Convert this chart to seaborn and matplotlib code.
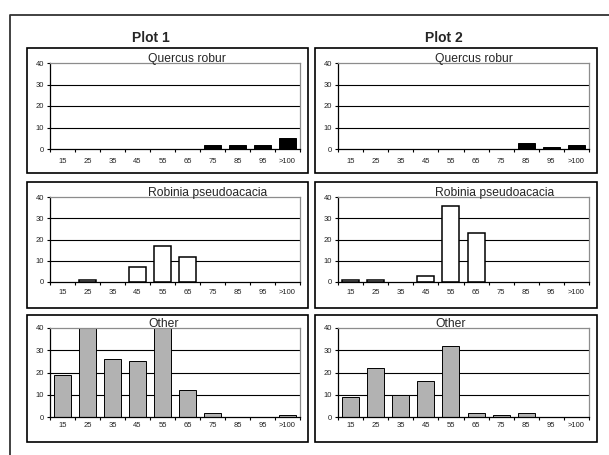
import matplotlib
matplotlib.use("Agg")
import matplotlib.pyplot as plt
from matplotlib.patches import Rectangle
from matplotlib.lines import Line2D
import seaborn as sns
import pandas as pd

# Diameter classes (cm) and stem counts per species group
classes = ["15", "25", "35", "45", "55", "65", "75", "85", "95", ">100"]

plot1_quercus = [0, 0, 0, 0, 0, 0, 2, 2, 2, 5]
plot2_quercus = [0, 0, 0, 0, 0, 0, 0, 3, 1, 2]
plot1_robinia = [0, 1, 0, 7, 17, 12, 0, 0, 0, 0]
plot2_robinia = [1, 1, 0, 3, 36, 23, 0, 0, 0, 0]
plot1_other = [19, 42, 26, 25, 41, 12, 2, 0, 0, 1]
plot2_other = [9, 22, 10, 16, 32, 2, 1, 2, 0, 0]

species = ["Quercus robur", "Robinia pseudoacacia", "Other"]
column_titles = ["Plot 1", "Plot 2"]
fills = ["#000000", "#ffffff", "#b2b2b2"]

counts = {
    (0, 0): plot1_quercus, (0, 1): plot2_quercus,
    (1, 0): plot1_robinia, (1, 1): plot2_robinia,
    (2, 0): plot1_other, (2, 1): plot2_other,
}

sns.set_style("white")
plt.rcParams["font.family"] = ["Liberation Sans", "DejaVu Sans"]

W, H = 609, 455
fig = plt.figure(figsize=(W / 100, H / 100), dpi=100)


def fx(px):
    return px / W


def fy(py):
    return 1 - py / H


# outer frame (open to the right and bottom)
fig.add_artist(Line2D([fx(10), fx(10), fx(609)], [fy(455), fy(15), fy(15)],
                      transform=fig.transFigure, color="#333333", lw=1.3))

col_box = [(27, 308), (315, 597)]
row_box = [(48, 173), (182, 308), (315, 442)]
col_axes = [(50, 300), (338, 589)]
row_axes = [(63, 149), (197, 282), (328, 417)]
title_x = [148, 435]
xlabel_pad = [6.4, 5.2, 3.9]

for c, (x0, x1) in enumerate(col_box):
    for r, (y0, y1) in enumerate(row_box):
        fig.add_artist(Rectangle((fx(x0), fy(y1)), fx(x1) - fx(x0), fy(y0) - fy(y1),
                                 transform=fig.transFigure, fill=False,
                                 edgecolor="#000000", lw=1.2))

for c in range(2):
    ax0, ax1 = col_axes[c]
    for r in range(3):
        ay0, ay1 = row_axes[r]
        ax = fig.add_axes([fx(ax0), fy(ay1), fx(ax1) - fx(ax0), fy(ay0) - fy(ay1)])
        df = pd.DataFrame({"cls": classes, "n": counts[(r, c)]})
        sns.barplot(data=df, x="cls", y="n", order=classes, ax=ax,
                    color=fills[r], saturation=1, width=0.68,
                    edgecolor="black", linewidth=1.1 if r == 1 else 0.7)
        ax.set_xlim(-0.5, len(classes) - 0.5)
        ax.set_ylim(0, 40)
        ax.set_yticks([0, 10, 20, 30, 40])
        ax.set_yticklabels(["0", "10", "20", "30", "40"], fontsize=5.5, color="#222222")
        for yv in (10, 20, 30):
            ax.axhline(yv, color="black", lw=0.8, zorder=0)
        # boundary tick marks between classes, labels at class centres
        ax.set_xticks([i - 0.5 for i in range(len(classes) + 1)])
        ax.set_xticklabels([])
        ax.set_xticks(range(len(classes)), minor=True)
        ax.set_xticklabels(classes, minor=True, fontsize=5.5, color="#222222")
        ax.tick_params(axis="x", which="major", direction="out", length=2.5, width=0.8,
                       bottom=True, color="black")
        ax.tick_params(axis="x", which="minor", length=0, pad=xlabel_pad[r])
        ax.tick_params(axis="y", direction="out", length=2.2, width=0.8, pad=2,
                       left=True, color="black")
        ax.set_xlabel("")
        ax.set_ylabel("")
        for side in ("left", "bottom"):
            ax.spines[side].set_color("black")
            ax.spines[side].set_linewidth(0.9)
        for side in ("top", "right"):
            ax.spines[side].set_color("#8c8c8c")
            ax.spines[side].set_linewidth(0.9)
        for patch in ax.patches:
            patch.set_clip_on(True)
            # empty classes leave no outline on the axis
            if patch.get_height() == 0:
                patch.set_linewidth(0)
        fig.text(fx(title_x[c]), fy(ay0) + 0.003, species[r], fontsize=8.7,
                 ha="left", va="baseline")

fig.text(fx(151), fy(42), column_titles[0], fontsize=10, fontweight="bold",
         ha="center", va="baseline")
fig.text(fx(444), fy(42), column_titles[1], fontsize=10, fontweight="bold",
         ha="center", va="baseline")

fig.savefig("out.png", dpi=100, facecolor="white")
